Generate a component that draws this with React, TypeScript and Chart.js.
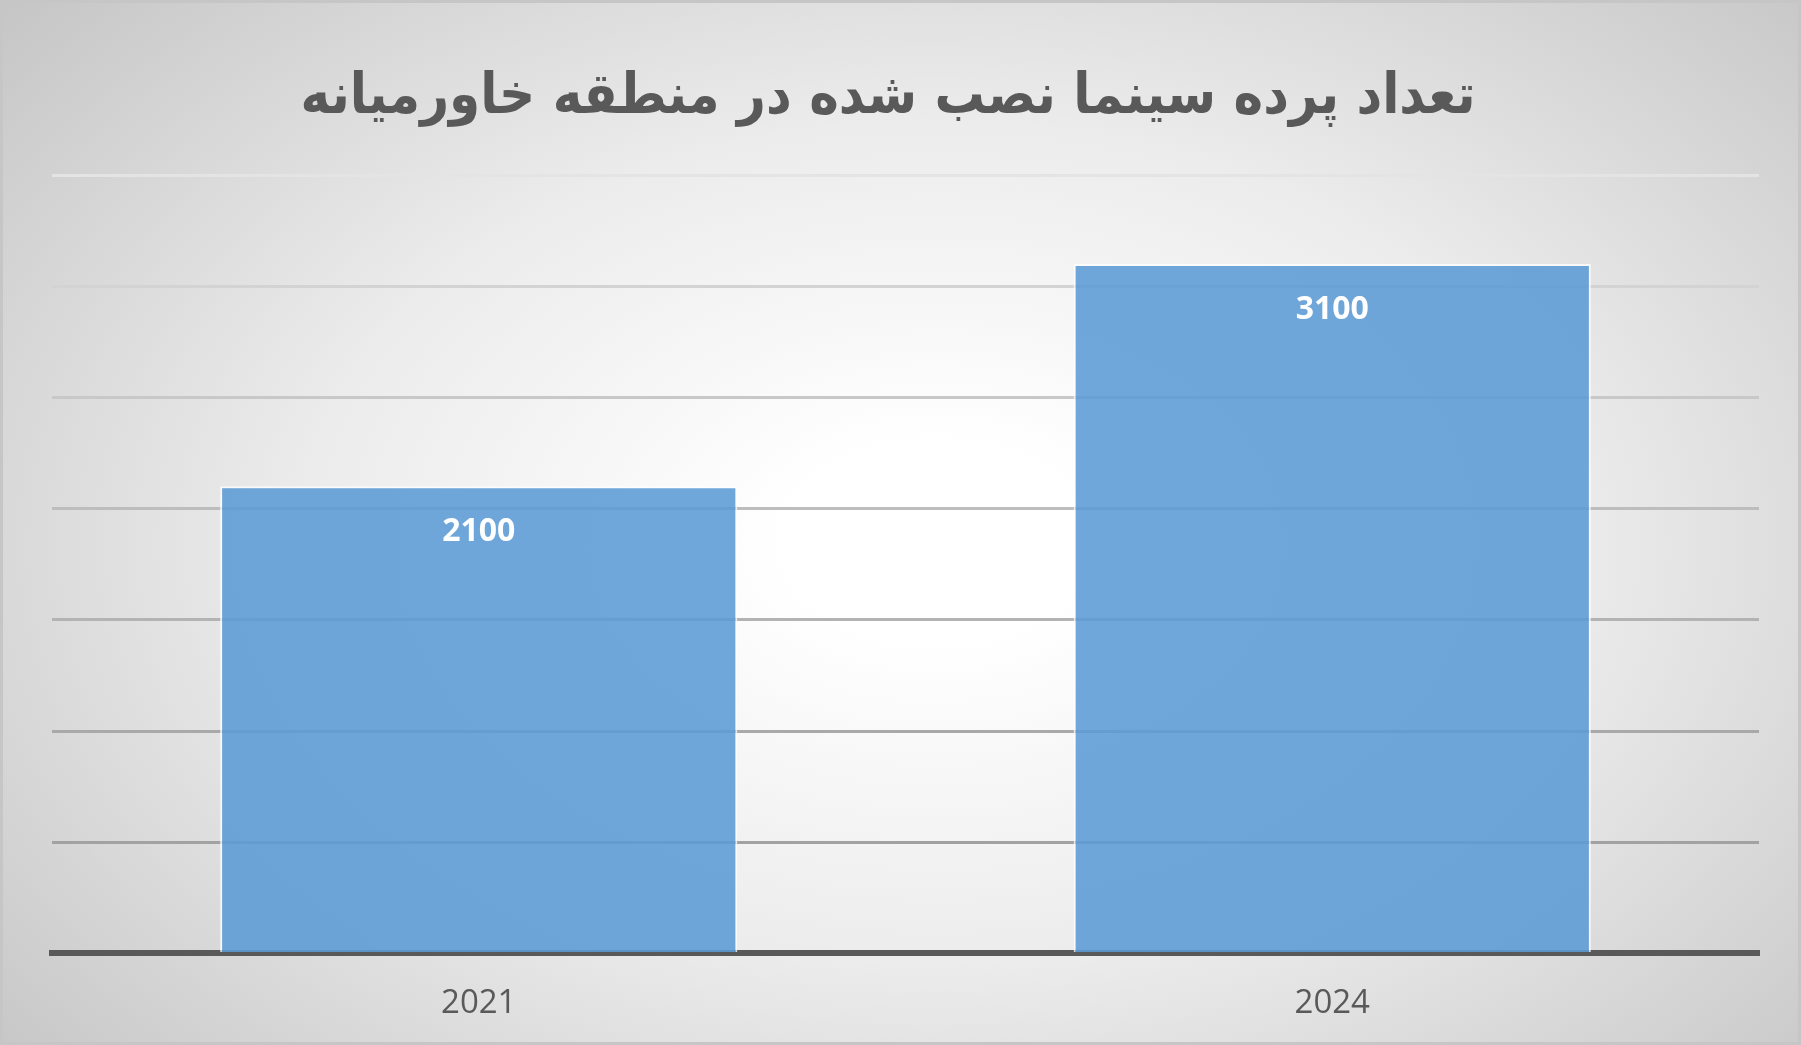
import { useEffect, useRef } from "react";
import { Chart, registerables } from "chart.js";

Chart.register(...registerables);

const chartTitle = "تعداد پرده سینما نصب شده در منطقه خاورمیانه";
const years = ["2021", "2024"];
const screens = [2100, 3100];
const yMax = 3500;
const yStep = 500;

// gridlines fade from light at the top to darker near the base
const gridColors = ["rgba(0,0,0,0)", "#a2a2a2", "#a9a9a9", "#b3b3b3", "#bdbdbd", "#c8c8c8", "#d3d3d3", "#e4e4e4"];

const valueLabels = {
  id: "valueLabels",
  afterDatasetsDraw(chart: Chart) {
    const ctx = chart.ctx;
    const meta = chart.getDatasetMeta(0);
    ctx.save();
    ctx.fillStyle = "#ffffff";
    ctx.font = "bold 32px 'Open Sans', sans-serif";
    ctx.textAlign = "center";
    ctx.textBaseline = "middle";
    meta.data.forEach((bar: any, i: number) => {
      ctx.fillText(String(screens[i]), bar.x, bar.y + 46);
    });
    ctx.restore();
  },
};

// title is a bit off-centre and condensed in the original
const titleText = {
  id: "titleText",
  afterDraw(chart: Chart) {
    const ctx = chart.ctx;
    ctx.save();
    ctx.fillStyle = "#595959";
    ctx.font = "bold 56px 'DejaVu Sans', sans-serif";
    ctx.textAlign = "center";
    ctx.textBaseline = "alphabetic";
    const w = ctx.measureText(chartTitle).width;
    const sx = Math.min(1, 1175 / w);
    ctx.translate(888, 113);
    ctx.scale(sx, 1);
    ctx.fillText(chartTitle, 0, 0);
    ctx.restore();
  },
};

export default function App() {
  const canvasRef = useRef<HTMLCanvasElement>(null);
  const chartRef = useRef<Chart | null>(null);

  useEffect(() => {
    document.body.style.margin = "0";
    if (!canvasRef.current) return;
    if (chartRef.current) chartRef.current.destroy();

    chartRef.current = new Chart(canvasRef.current, {
      type: "bar",
      data: {
        labels: years,
        datasets: [
          {
            data: screens,
            backgroundColor: "rgba(91,155,213,0.88)",
            borderColor: "rgba(255,255,255,0.75)",
            borderWidth: 2,
            categoryPercentage: 1,
            barPercentage: 0.606,
          },
        ],
      },
      options: {
        responsive: true,
        maintainAspectRatio: false,
        animation: false,
        layout: { padding: { left: 52, right: 42, top: 175, bottom: 0 } },
        plugins: {
          legend: { display: false },
          tooltip: { enabled: false },
          title: { display: false },
        },
        scales: {
          x: {
            z: 1,
            grid: { display: false },
            border: { display: true, color: "#595959", width: 6 },
            ticks: {
              color: "#595959",
              padding: 22,
              font: { family: "'Open Sans', sans-serif", size: 33 },
            },
          },
          y: {
            min: 0,
            max: yMax,
            ticks: { display: false, stepSize: yStep },
            border: { display: false },
            grid: {
              color: (c: any) => gridColors[c.index] ?? "#cccccc",
              lineWidth: 3,
              drawTicks: false,
            },
          },
        },
      },
      plugins: [valueLabels, titleText],
    });

    return () => {
      chartRef.current?.destroy();
    };
  }, []);

  return (
    <div
      style={{
        position: "relative",
        width: 1801,
        height: 1045,
        background:
          "radial-gradient(ellipse 70% 80% at 52% 52%, #ffffff 12%, #ececec 50%, #c4c4c4 100%)",
        boxShadow: "inset 0 0 0 3px #c6c6c6",
      }}
    >
      <canvas ref={canvasRef} />
    </div>
  );
}
